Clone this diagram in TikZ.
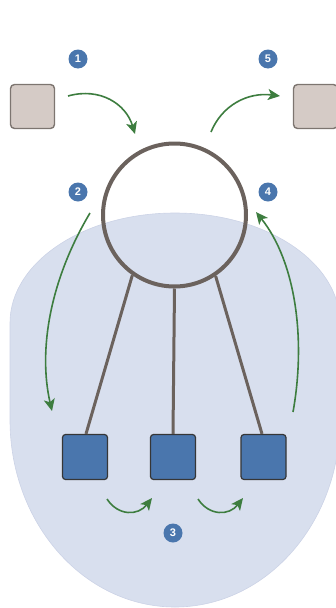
\documentclass[tikz,border=0pt]{standalone}
\usepackage{fontspec}
\setsansfont{Liberation Sans}
\usetikzlibrary{arrows.meta}
\definecolor{blobfill}{HTML}{D8DFEE}
\definecolor{blobline}{HTML}{CCD3E6}
\definecolor{ringcol}{HTML}{6B625D}
\definecolor{grayfill}{HTML}{D5CBC6}
\definecolor{grayline}{HTML}{7D7570}
\definecolor{bluefill}{HTML}{4A76AD}
\definecolor{darkline}{HTML}{363636}
\definecolor{arrowgreen}{HTML}{3D7D3F}
\tikzset{
  graybox/.style={draw=grayline, fill=grayfill, line width=1.4pt, rounded corners=4pt, minimum size=44pt, inner sep=0pt},
  bluebox/.style={draw=darkline, fill=bluefill, line width=1.2pt, rounded corners=3pt, minimum size=45pt, inner sep=0pt},
  ring/.style={draw=ringcol, line width=4pt, circle, minimum size=143pt, inner sep=0pt},
  spoke/.style={draw=ringcol, line width=3pt},
  flow/.style={draw=arrowgreen, line width=1.6pt, -{Stealth[length=12pt,width=11pt,inset=3pt]}},
  badge/.style={circle, fill=bluefill, minimum size=19pt, inner sep=0pt, text=white, font=\sffamily\bfseries\fontsize{11pt}{11pt}\selectfont}
}
\begin{document}
\begin{tikzpicture}[x=1pt,y=-1pt]
\useasboundingbox (0,0) rectangle (335,608);
% blob
\path[fill=blobfill, draw=blobline, line width=0.6pt]
  (10,323) arc[start angle=180, end angle=0, x radius=165pt, y radius=110pt]
  -- (340,420) arc[start angle=0, end angle=-180, x radius=165pt, y radius=187pt] -- cycle;
% boxes
\node[graybox] (src) at (32.5,106.5) {};
\node[graybox] (dst) at (315.5,106.5) {};
\node[ring] (circ) at (174.5,215) {};
\node[bluebox] (w1) at (85,457) {};
\node[bluebox] (w2) at (173,457) {};
\node[bluebox] (w3) at (263.5,457) {};
% spokes
\draw[spoke] (circ.235) -- (w1.north -| 86,0);
\draw[spoke] (circ.south) -- (w2.north);
\draw[spoke] (circ.304) -- (w3.north -| 262,0);
% arrow coordinates
\coordinate (a1s) at (68,96);   \coordinate (a1e) at (135,134);
\coordinate (a6s) at (211,132); \coordinate (a6e) at (280,96);
\coordinate (a2s) at (90,213);  \coordinate (a2e) at (52,411);
\coordinate (a4s) at (293,412); \coordinate (a4e) at (256,212);
\coordinate (a3s) at (107,499); \coordinate (a3e) at (152,498);
\coordinate (a5s) at (198,499); \coordinate (a5e) at (243,498);
\draw[flow] (a1s) .. controls (100,87) and (126,104) .. (a1e);
\draw[flow] (a6s) .. controls (222,105) and (248,92) .. (a6e);
\draw[flow] (a2s) .. controls (50,280) and (38,350) .. (a2e);
\draw[flow] (a4s) .. controls (306,340) and (296,262) .. (a4e);
\draw[flow] (a3s) .. controls (118,516) and (138,516) .. (a3e);
\draw[flow] (a5s) .. controls (209,516) and (229,516) .. (a5e);
% badges
\node[badge] (b1) at (78,59) {1};
\node[badge] (b5) at (268,59) {5};
\node[badge] (b2) at (78,192) {2};
\node[badge] (b4) at (268,192) {4};
\node[badge] (b3) at (173,533) {3};
\end{tikzpicture}
\end{document}
